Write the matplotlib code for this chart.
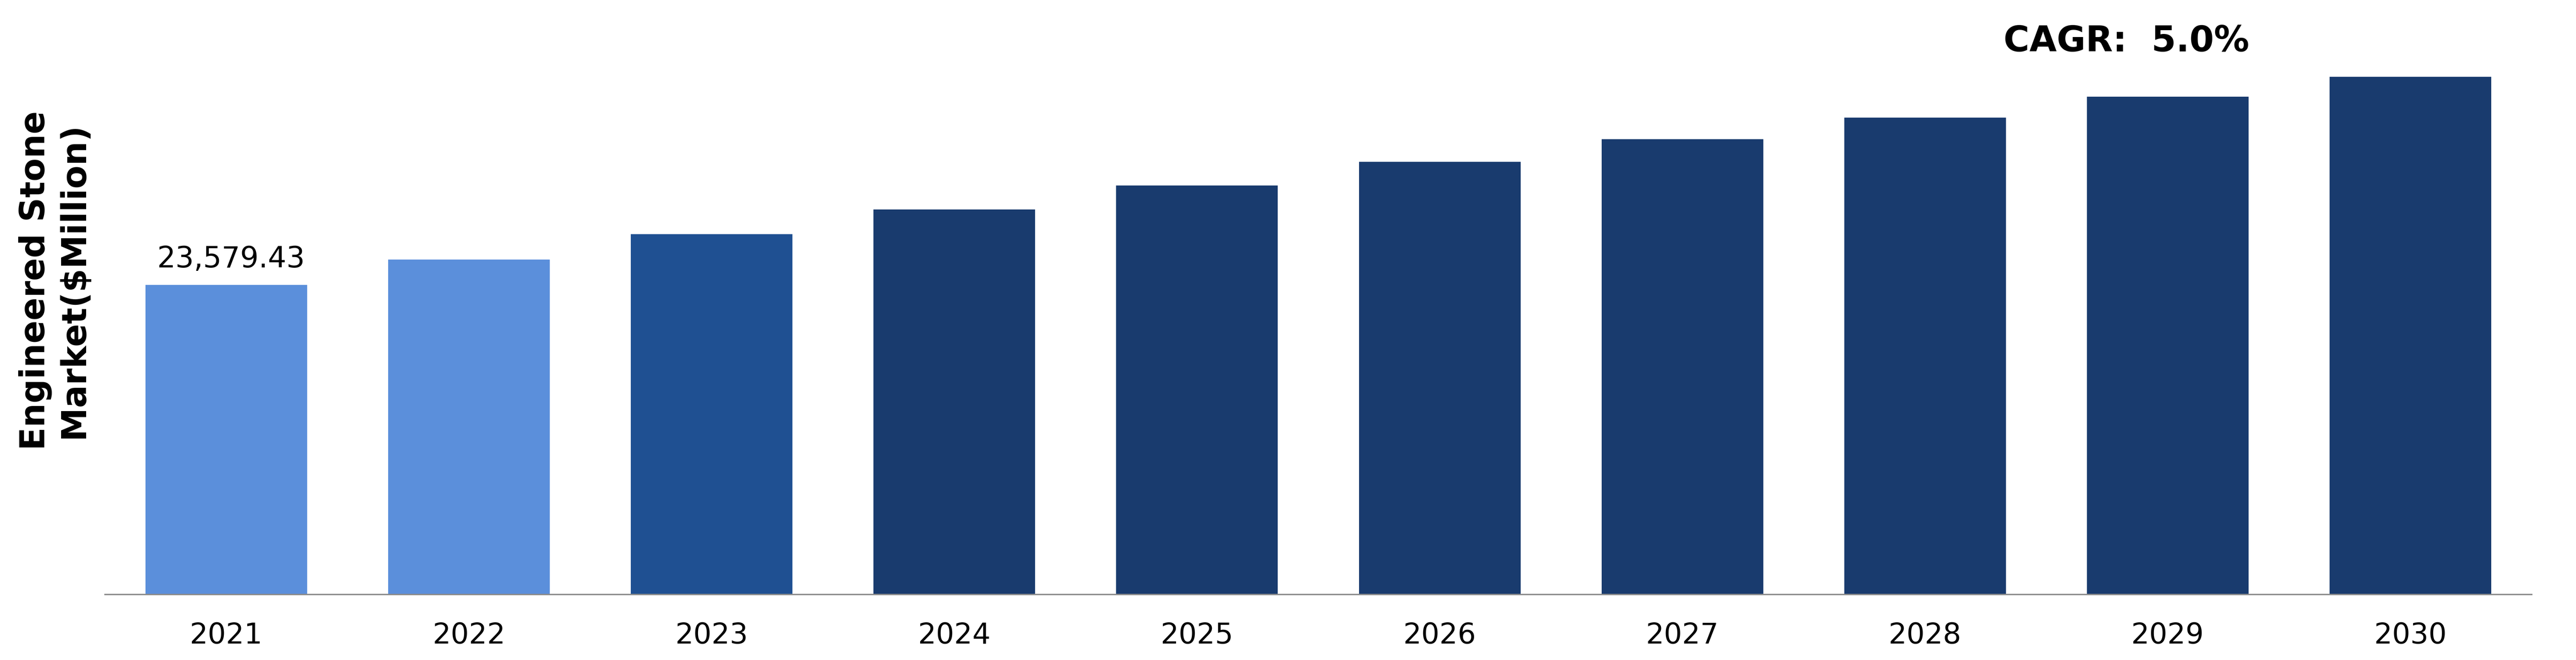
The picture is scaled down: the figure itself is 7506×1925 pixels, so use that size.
import matplotlib
matplotlib.use("Agg")
import matplotlib.pyplot as plt

years = ["2021", "2022", "2023", "2024", "2025", "2026", "2027", "2028", "2029", "2030"]
market_values = [23579.43, 25511, 27444, 29324, 31152, 32953, 34677, 36322, 37915, 39430]
bar_colors = ["#5B8FDB", "#5B8FDB", "#1F5092"] + ["#193B6E"] * 7
value_label = "23,579.43"
cagr_text = "CAGR:  5.0%"
ylabel_text = "Engineered Stone\nMarket($Million)"

W, H, DPI = 7507, 1925, 100


def main():
    plt.rcParams["font.family"] = "DejaVu Sans"
    fig = plt.figure(figsize=(W / DPI, H / DPI), dpi=DPI)

    # axes placed to match the reference pixel layout
    left, right, bottom_px = 306, 7377, 1734
    ax = fig.add_axes([left / W, (H - bottom_px) / H, (right - left) / W, bottom_px / H])

    x = list(range(len(years)))
    ax.bar(x, market_values, width=0.666, color=bar_colors, zorder=2)

    ax.set_xlim(-0.5, len(years) - 0.5)
    ax.set_ylim(0, 23579.43 / 903 * bottom_px)

    ax.set_xticks(x)
    ax.set_xticklabels(years, fontsize=60)
    ax.tick_params(axis="x", length=0, pad=57)
    ax.set_yticks([])

    for side in ["top", "right", "left"]:
        ax.spines[side].set_visible(False)
    ax.spines["bottom"].set_color("#8C8C8C")
    ax.spines["bottom"].set_linewidth(3)
    ax.spines["bottom"].set_zorder(3)

    # only the first bar carries a value label
    ax.annotate(value_label, xy=(0, market_values[0]), xytext=(10, 24),
                textcoords="offset points", ha="center", va="bottom", fontsize=61)

    ax.text(7.83, 0.930, cagr_text, transform=ax.get_xaxis_transform(),
            ha="center", va="center", fontsize=74, fontweight="bold")

    fig.text(159 / W, 1 - 818 / H, ylabel_text, rotation=90, ha="center", va="center",
             multialignment="center", fontsize=71, fontweight="bold")

    fig.savefig("out.png", dpi=DPI, facecolor="white")


if __name__ == "__main__":
    main()
